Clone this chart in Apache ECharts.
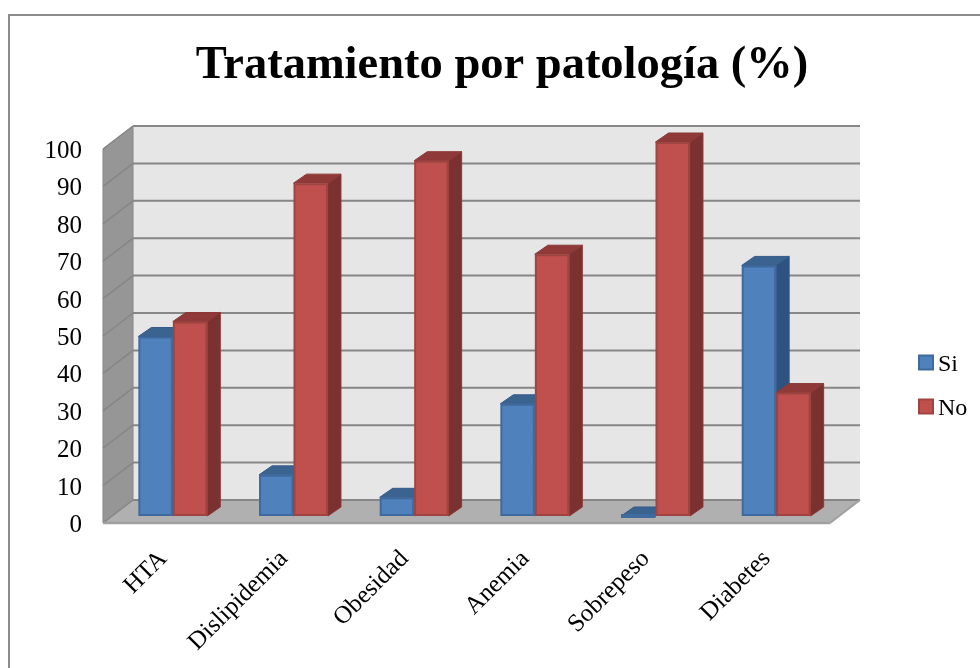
<!DOCTYPE html>
<html>
<head>
    <meta charset="utf-8">
    <title>Tratamiento por patología (%)</title>
    <script src="https://cdn.jsdelivr.net/npm/echarts@6/dist/echarts.min.js"></script>
    <style type="text/css">
        *{margin: 0;padding: 0;}
        body{background: #fff;overflow: hidden;}
    </style>
</head>
<body>
<div id="main" style="width: 980px;height: 668px;"></div>
<script type="text/javascript">
    var categories = ['HTA', 'Dislipidemia', 'Obesidad', 'Anemia', 'Sobrepeso', 'Diabetes'];
    var si = [48, 11, 5, 30, 0, 67];
    var no = [52, 89, 95, 70, 100, 33];
    var yTicks = [0, 10, 20, 30, 40, 50, 60, 70, 80, 90, 100];

    var font = '"Liberation Serif", serif';
    // fake 3d offsets, in pixels, from the front plane of the box
    var backDx = 30, backDy = -23;
    var barDx = 9.5, barDy = -7;
    var depthDx = 13, depthDy = -9;
    var floorExtra = 3;

    var myChart = echarts.init(document.getElementById('main'));

    function poly(points, fill, stroke, lineWidth) {
        return {
            type: 'polygon',
            shape: {points: points},
            style: {fill: fill, stroke: stroke || null, lineWidth: lineWidth || 0}
        };
    }

    function line(x1, y1, x2, y2, color, width) {
        return {
            type: 'line',
            shape: {x1: x1, y1: y1, x2: x2, y2: y2},
            style: {stroke: color, lineWidth: width}
        };
    }

    // walls, floor and gridlines of the box
    function renderBox(params, api) {
        var rect = params.coordSys;
        var x0 = rect.x, x1 = rect.x + rect.width + floorExtra;
        var y0 = api.coord([0, 0])[1], y1 = api.coord([0, 100])[1];
        var grey = '#868686';
        var items = [
            poly([[x0 + backDx, y1 + backDy], [x1 + backDx, y1 + backDy], [x1 + backDx, y0 + backDy], [x0 + backDx, y0 + backDy]], '#e6e6e6'),
            poly([[x0, y1], [x0 + backDx, y1 + backDy], [x0 + backDx, y0 + backDy], [x0, y0]], '#969696', grey, 1),
            poly([[x0, y0], [x0 + backDx, y0 + backDy], [x1 + backDx, y0 + backDy], [x1, y0]], '#b0b0b0')
        ];
        yTicks.forEach(function (t) {
            var y = api.coord([0, t])[1];
            items.push(line(x0 + backDx, y + backDy, x1 + backDx, y + backDy, grey, 2));
            items.push(line(x0, y, x0 + backDx, y + backDy, grey, 1.5));
        });
        items.push(line(x0, y0, x1, y0, '#a0a0a0', 2.5));
        items.push(line(x1, y0, x1 + backDx, y0 + backDy, '#a0a0a0', 2));
        return {type: 'group', children: items};
    }

    function bar3d(colors, side) {
        return function (params, api) {
            var bottom = api.coord([api.value(0), 0]);
            var top = api.coord([api.value(0), api.value(1)]);
            var w = api.size([1, 0])[0] / 3.5;
            var xl = bottom[0] + barDx + (side < 0 ? -w : 0);
            var xr = xl + w;
            var yb = bottom[1] + barDy;
            var yt = top[1] + barDy;
            return {
                type: 'group',
                children: [
                    poly([[xr, yt], [xr + depthDx, yt + depthDy], [xr + depthDx, yb + depthDy], [xr, yb]], colors.side, colors.sideLine, 1),
                    poly([[xl, yt], [xl + depthDx, yt + depthDy], [xr + depthDx, yt + depthDy], [xr, yt]], colors.top, colors.sideLine, 1),
                    poly([[xl + 1, yt + 1], [xr - 1, yt + 1], [xr - 1, yb - 1], [xl + 1, yb - 1]], colors.front, colors.line, 2)
                ]
            };
        };
    }

    var blue = {front: '#4f81bd', line: '#3f6a9d', top: '#3b6390', side: '#2f5380', sideLine: '#35598a'};
    var red = {front: '#c0504d', line: '#a04441', top: '#8f3a38', side: '#7a3130', sideLine: '#8c3836'};

    var siData = si.map(function (v, i) { return [i, v]; });
    var noData = no.map(function (v, i) { return [i, v]; });

    var option = {
        animation: false,
        backgroundColor: '#fff',
        title: {
            text: 'Tratamiento por patología (%)',
            left: 497,
            top: 37,
            textAlign: 'center',
            textStyle: {fontFamily: font, fontSize: 46.5, fontWeight: 'bold', color: '#000'}
        },
        legend: {
            orient: 'vertical',
            left: 913,
            top: 348,
            itemWidth: 14,
            itemHeight: 14,
            itemGap: 20,
            icon: 'rect',
            data: ['Si', 'No'],
            formatter: '{a|{name}}',
            textStyle: {
                fontFamily: font, fontSize: 24, color: '#000',
                rich: {a: {fontFamily: font, fontSize: 24, color: '#000', padding: [5, 0, 0, 0]}}
            }
        },
        grid: {left: 103, top: 149, width: 724, height: 374},
        xAxis: {
            type: 'category',
            data: categories,
            axisLine: {show: false},
            axisTick: {show: false},
            axisLabel: {rotate: 45, interval: 0, margin: 32, fontFamily: font, fontSize: 25, color: '#000'}
        },
        yAxis: {
            type: 'value',
            min: 0,
            max: 100,
            interval: 10,
            splitLine: {show: false},
            axisLine: {show: false},
            axisTick: {show: false},
            axisLabel: {
                margin: 21,
                formatter: '{a|{value}}',
                rich: {a: {fontFamily: font, fontSize: 25, color: '#000', padding: [5, 0, 0, 0]}}
            }
        },
        graphic: [{
            type: 'rect',
            shape: {x: 9, y: 15, width: 990, height: 700},
            style: {fill: 'none', stroke: '#8c8c8c', lineWidth: 2},
            silent: true,
            z: -10
        }],
        series: [
            {
                type: 'custom',
                name: 'box',
                renderItem: renderBox,
                data: [[0, 0]],
                z: 1,
                silent: true,
                tooltip: {show: false}
            },
            {
                type: 'custom',
                name: 'Si',
                renderItem: bar3d(blue, -1),
                data: siData,
                encode: {x: 0, y: 1},
                itemStyle: {color: blue.front, borderColor: blue.line, borderWidth: 2},
                z: 2
            },
            {
                type: 'custom',
                name: 'No',
                renderItem: bar3d(red, 1),
                data: noData,
                encode: {x: 0, y: 1},
                itemStyle: {color: red.front, borderColor: red.line, borderWidth: 2},
                z: 3
            }
        ]
    };
    myChart.setOption(option);
</script>
</body>
</html>
